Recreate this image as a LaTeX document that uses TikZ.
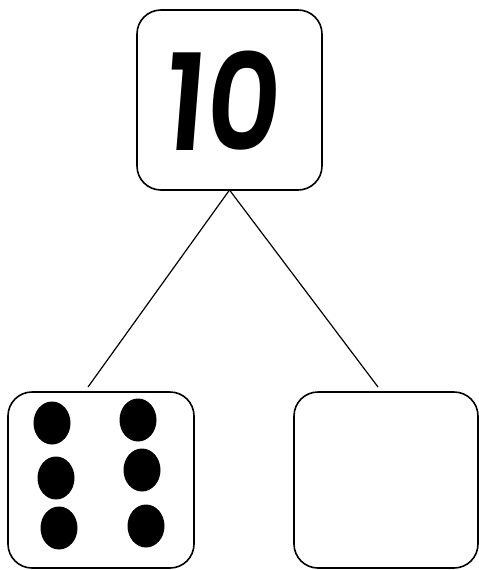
\documentclass[tikz,border=0pt]{standalone}
\usepackage{fontspec}
\newfontfamily\digitfont{Poppins SemiBold}[FakeSlant=0.08, FakeStretch=0.86]
\begin{document}
\begin{tikzpicture}[x=1pt, y=-1pt, line width=1.6pt,
  box/.style={draw, rounded corners=24pt, inner sep=0pt, outer sep=0pt}]
  \useasboundingbox (0,0) rectangle (479,570);
  \node[box, minimum width=185pt, minimum height=180pt] (whole) at (229.5,100) {};
  \node[font=\digitfont\fontsize{134}{134}\selectfont] (num) at (220,101) {10};
  \node[box, minimum width=186pt, minimum height=176pt] (partA) at (101,480) {};
  \node[box, minimum width=184pt, minimum height=176pt] (partB) at (386,480) {};
  \coordinate (endA) at (88,387);
  \coordinate (endB) at (378,387);
  \draw[line width=1.2pt] (whole.south) -- (endA);
  \draw[line width=1.2pt] (whole.south) -- (endB);
  % six dots
  \foreach \cx/\cy in {52/423, 138/420, 56/478, 142/470, 59/528, 146/526}
    \fill (\cx,\cy) ellipse [x radius=18.5pt, y radius=21.5pt];
\end{tikzpicture}
\end{document}
